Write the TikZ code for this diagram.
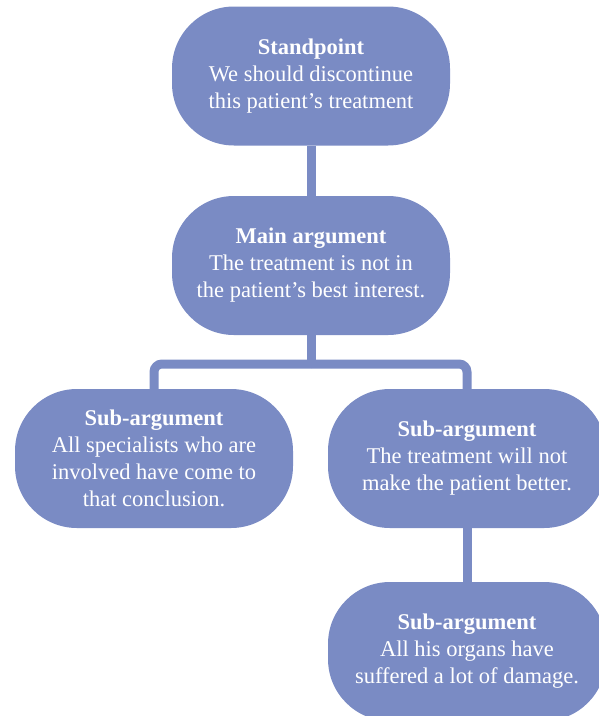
\documentclass[tikz,border=0pt]{standalone}
\usepackage{fontspec}
\setmainfont{Liberation Serif}
\definecolor{pill}{RGB}{122,139,196}
\begin{document}
\begin{tikzpicture}[x=1pt,y=-1pt,
  pillbox/.style={fill=pill, draw=none, rounded corners=62pt, minimum width=278pt, minimum height=139pt,
    text=white, align=center, font=\fontsize{22.5}{27}\selectfont, inner sep=0pt},
  link/.style={draw=pill, line width=9pt}]
\useasboundingbox (0,0) rectangle (599,716);
\node[pillbox] (sp) at (311,76) {\textbf{Standpoint}\\We should discontinue\\this patient’s treatment};
\node[pillbox] (ma) at (311,265.5) {\textbf{Main argument}\\The treatment is not in\\the patient’s best interest.};
\node[pillbox] (s1) at (154,458.5) {\textbf{Sub-argument}\\All specialists who are\\involved have come to\\that conclusion.};
\node[pillbox] (s2) at (467,458.5) {\textbf{Sub-argument}\\The treatment will not\\make the patient better.};
\node[pillbox] (s3) at (467,651.5) {\textbf{Sub-argument}\\All his organs have\\suffered a lot of damage.};
\coordinate (split) at (311,364);
\draw[link] (sp.south) -- (ma.north);
\draw[link] (ma.south) -- (split);
\draw[link, rounded corners=8pt] (split) -| (s1.north);
\draw[link, rounded corners=8pt] (split) -| (s2.north);
\draw[link] (s2.south) -- (s3.north);
\end{tikzpicture}
\end{document}
